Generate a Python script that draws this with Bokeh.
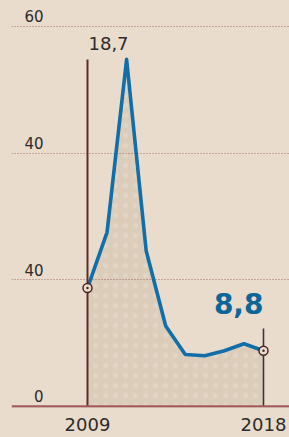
from bokeh.plotting import figure
from bokeh.models import FixedTicker, GlobalInlineStyleSheet, Range1d, Span
from bokeh.core.properties import value
from bokeh.embed import file_html
from bokeh.resources import INLINE

# ---- data ----
years = [2009, 2010, 2011, 2012, 2013, 2014, 2015, 2016, 2017, 2018]
values = [18.7, 27.5, 54.8, 24.6, 12.7, 8.2, 8.0, 8.8, 9.9, 8.8]
y_ticks = [0, 20, 40, 60]
y_tick_labels = ["0", "40", "40", "60"]
x_ticks = [2009, 2018]
x_tick_labels = ["2009", "2018"]
callout_years = [2009, 2018]
callout_values = [18.7, 8.8]
callout_texts = ["18,7", "8,8"]

# ---- style ----
BG = "#e9dccd"
TXT = "#2e2a2a"
BLUE = "#116ea8"
BROWN = "#4a2424"
GRID = "#9a5e5e"
FONT = value("DejaVu Sans")

p = figure(width=289, height=437, output_backend="svg", toolbar_location=None,
           x_range=Range1d(2005.114, 2019.33), y_range=Range1d(-0.158, 64.1),
           min_border_left=11, min_border_right=0, min_border_top=0, min_border_bottom=30)
p.stylesheets = [GlobalInlineStyleSheet(css="html, body { background-color: %s; }" % BG)]
p.background_fill_color = BG
p.border_fill_color = BG
p.outline_line_color = None

# grid
p.xgrid.visible = False
p.ygrid.ticker = FixedTicker(ticks=[t for t in y_ticks if t > 0])
p.ygrid.grid_line_color = GRID
p.ygrid.grid_line_dash = "1 2"
p.ygrid.grid_line_width = 1.2
p.ygrid.grid_line_alpha = 0.9

# axes
p.yaxis.visible = False
p.xaxis.ticker = FixedTicker(ticks=x_ticks)
p.xaxis.major_label_overrides = {t: s for t, s in zip(x_ticks, x_tick_labels)}
p.xaxis.axis_line_color = None
p.xaxis.major_tick_line_color = None
p.xaxis.minor_tick_line_color = None
p.xaxis.major_label_standoff = 4
p.xaxis.major_label_text_font = "DejaVu Sans"
p.xaxis.major_label_text_font_size = "18px"
p.xaxis.major_label_text_color = TXT

# baseline
p.add_layout(Span(location=0, dimension="width", line_color="#a25a5a", line_width=2.5))

# area + line
p.varea(x=years, y1=[0] * len(years), y2=values, fill_color="#8c6a4a", fill_alpha=0.14,
        hatch_pattern="dot", hatch_color="white", hatch_alpha=0.18, hatch_scale=10,
        hatch_weight=0.8)
p.line(years, values, line_color=BLUE, line_width=3.6, line_join="round")

# callout stems
stem_tops = [max(values), callout_values[1] + 3.5]
p.segment(x0=callout_years, y0=[0, 0], x1=callout_years, y1=stem_tops,
          line_color=["#5a2e2e", "#3d3535"], line_width=[2, 1.6])

# y tick labels
p.text(x=[years[0]] * len(y_ticks), y=y_ticks, text=y_tick_labels,
       x_offset=-44, y_offset=-10, text_align="right", text_baseline="alphabetic",
       text_font=FONT, text_font_size="15px", text_color=TXT)

# markers
p.scatter(callout_years, callout_values, size=9, fill_color=BG, line_color=BROWN, line_width=1.5)
p.scatter(callout_years, callout_values, size=2.5, fill_color=BROWN, line_color=None)

# callout labels
p.text(x=[callout_years[0]], y=[stem_tops[0]], text=[callout_texts[0]],
       x_offset=1, y_offset=-16, text_align="left", text_baseline="alphabetic",
       text_font=FONT, text_font_size="18px", text_color=TXT)
p.text(x=[callout_years[1]], y=[stem_tops[1]], text=[callout_texts[1]],
       x_offset=0, y_offset=-25, text_align="right", text_baseline="alphabetic",
       text_font=FONT, text_font_size="28px", text_font_style="bold", text_color="#0d6699")

open("out.html", "w").write(file_html(p, INLINE))
